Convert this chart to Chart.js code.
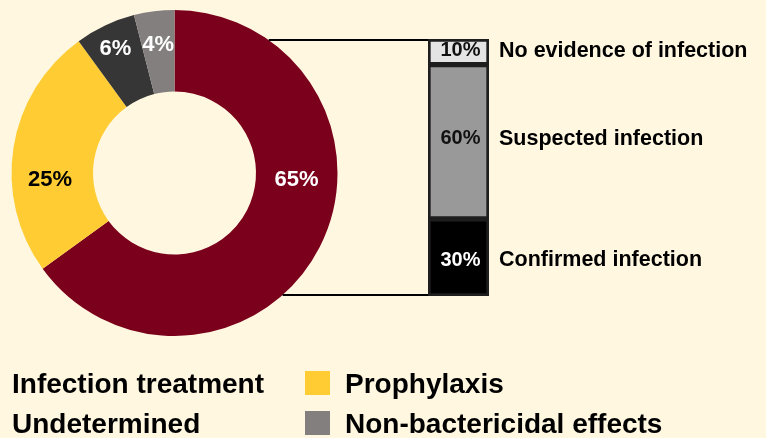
<!DOCTYPE html>
<html><head><meta charset="utf-8">
<script src="https://cdn.jsdelivr.net/npm/chart.js@4.4.1/dist/chart.umd.min.js"></script>
<style>
html,body{margin:0;padding:0;background:#FFF7E0;}
#wrap{position:relative;width:766px;height:438px;overflow:hidden;background:#FFF7E0;}
canvas{position:absolute;left:0;top:0;}
</style></head><body>
<div id="wrap"><canvas id="pie" width="766" height="438"></canvas><canvas id="bar" width="766" height="438"></canvas></div>
<script>
// ---- data ----
const categories = ['Infection treatment', 'Prophylaxis', 'Undetermined', 'Non-bactericidal effects'];
const shares = [65, 25, 6, 4];
const breakdownCategories = ['Confirmed infection', 'Suspected infection', 'No evidence of infection'];
const breakdownShares = [30, 60, 10];

// ---- styles ----
const FONT = '"Liberation Sans", Arial, Helvetica, sans-serif';
const sliceColors = ['#7A001C', '#FFCC33', '#363636', '#847F7F'];
const sliceTextColors = ['#FFFFFF', '#000000', '#FFFFFF', '#FFFFFF'];
const slicePlace = [{deg: 93, r: 0.75}, {deg: 267.5, r: 0.765}, {deg: null, r: 0.85}, {deg: null, r: 0.80}];
const barColors = ['#000000', '#999999', '#E4E4E4'];
const barTextColors = ['#FFFFFF', '#111111', '#111111'];
const barTextShift = [3, -3, -1];

const sliceLabels = {
  id: 'sliceLabels',
  afterDatasetsDraw(chart) {
    const ctx = chart.ctx;
    const meta = chart.getDatasetMeta(0);
    ctx.save();
    ctx.font = 'bold 22px ' + FONT;
    ctx.textAlign = 'center';
    ctx.textBaseline = 'middle';
    meta.data.forEach((arc, i) => {
      const p = arc.getProps(['x', 'y', 'startAngle', 'endAngle', 'outerRadius'], true);
      const pl = slicePlace[i];
      const a = pl.deg === null ? (p.startAngle + p.endAngle) / 2 : (pl.deg - 90) * Math.PI / 180;
      const r = p.outerRadius * pl.r;
      ctx.fillStyle = sliceTextColors[i];
      ctx.fillText(chart.data.datasets[0].data[i] + '%', p.x + Math.cos(a) * r, p.y + Math.sin(a) * r + 1);
    });
    ctx.restore();
  }
};

const bottomLegend = {
  id: 'bottomLegend',
  afterDraw(chart) {
    const ctx = chart.ctx;
    const colX = [-28, 305];
    const rowBase = [393, 433];
    ctx.save();
    ctx.font = 'bold 28px ' + FONT;
    ctx.textAlign = 'left';
    ctx.textBaseline = 'alphabetic';
    chart.data.labels.forEach((lab, i) => {
      const cx = colX[i % 2];
      const by = rowBase[Math.floor(i / 2)];
      ctx.fillStyle = chart.data.datasets[0].backgroundColor[i];
      ctx.fillRect(cx, by - 22, 25, 24);
      ctx.fillStyle = '#000000';
      ctx.fillText(lab, cx + 40, by);
    });
    ctx.restore();
  }
};

const pieChart = new Chart(document.getElementById('pie'), {
  type: 'doughnut',
  data: {
    labels: categories,
    datasets: [{data: shares, backgroundColor: sliceColors, borderWidth: 0, hoverOffset: 0, offset: 0}]
  },
  options: {
    responsive: false,
    animation: false,
    cutout: '50%',
    layout: {padding: {left: 11.5, right: 428.5, top: 10, bottom: 102}},
    plugins: {legend: {display: false}, tooltip: {enabled: false}}
  },
  plugins: [sliceLabels, bottomLegend]
});

const barLabels = {
  id: 'barLabels',
  afterDatasetsDraw(chart) {
    const ctx = chart.ctx;
    ctx.save();
    ctx.textBaseline = 'middle';
    chart.data.datasets.forEach((ds, i) => {
      const bar = chart.getDatasetMeta(i).data[0];
      const p = bar.getProps(['x', 'y', 'base', 'width'], true);
      const cy = (p.y + p.base) / 2 + barTextShift[i];
      ctx.font = 'bold 20px ' + FONT;
      ctx.textAlign = 'center';
      ctx.fillStyle = barTextColors[i];
      ctx.fillText(ds.data[0] + '%', p.x + 2, cy);
      ctx.font = 'bold 21.5px ' + FONT;
      ctx.textAlign = 'left';
      ctx.fillStyle = '#000000';
      ctx.fillText(ds.label, p.x + p.width / 2 + 10, cy);
    });
    ctx.restore();
  }
};

const connectors = {
  id: 'connectors',
  afterDraw(chart) {
    const arc = pieChart.getDatasetMeta(0).data[0];
    const p = arc.getProps(['x', 'y', 'outerRadius'], true);
    const area = chart.chartArea;
    const ctx = chart.ctx;
    ctx.save();
    ctx.strokeStyle = '#000000';
    ctx.lineWidth = 2;
    [area.top + 1, area.bottom - 1].forEach(yy => {
      const dx = Math.sqrt(Math.max(p.outerRadius * p.outerRadius - (yy - p.y) * (yy - p.y), 0));
      ctx.beginPath();
      ctx.moveTo(p.x + dx, yy);
      ctx.lineTo(area.left, yy);
      ctx.stroke();
    });
    ctx.restore();
  }
};

new Chart(document.getElementById('bar'), {
  type: 'bar',
  data: {
    labels: ['Infection treatment'],
    datasets: breakdownCategories.map((c, i) => ({
      label: c,
      data: [breakdownShares[i]],
      backgroundColor: barColors[i],
      borderColor: '#1E1E1E',
      borderWidth: 3,
      borderSkipped: false,
      barPercentage: 1,
      categoryPercentage: 1
    }))
  },
  options: {
    responsive: false,
    animation: false,
    layout: {padding: {left: 428, right: 277, top: 39, bottom: 142}},
    scales: {
      x: {display: false, stacked: true},
      y: {display: false, stacked: true, min: 0, max: 100}
    },
    plugins: {legend: {display: false}, tooltip: {enabled: false}}
  },
  plugins: [barLabels, connectors]
});
</script>
</body></html>
